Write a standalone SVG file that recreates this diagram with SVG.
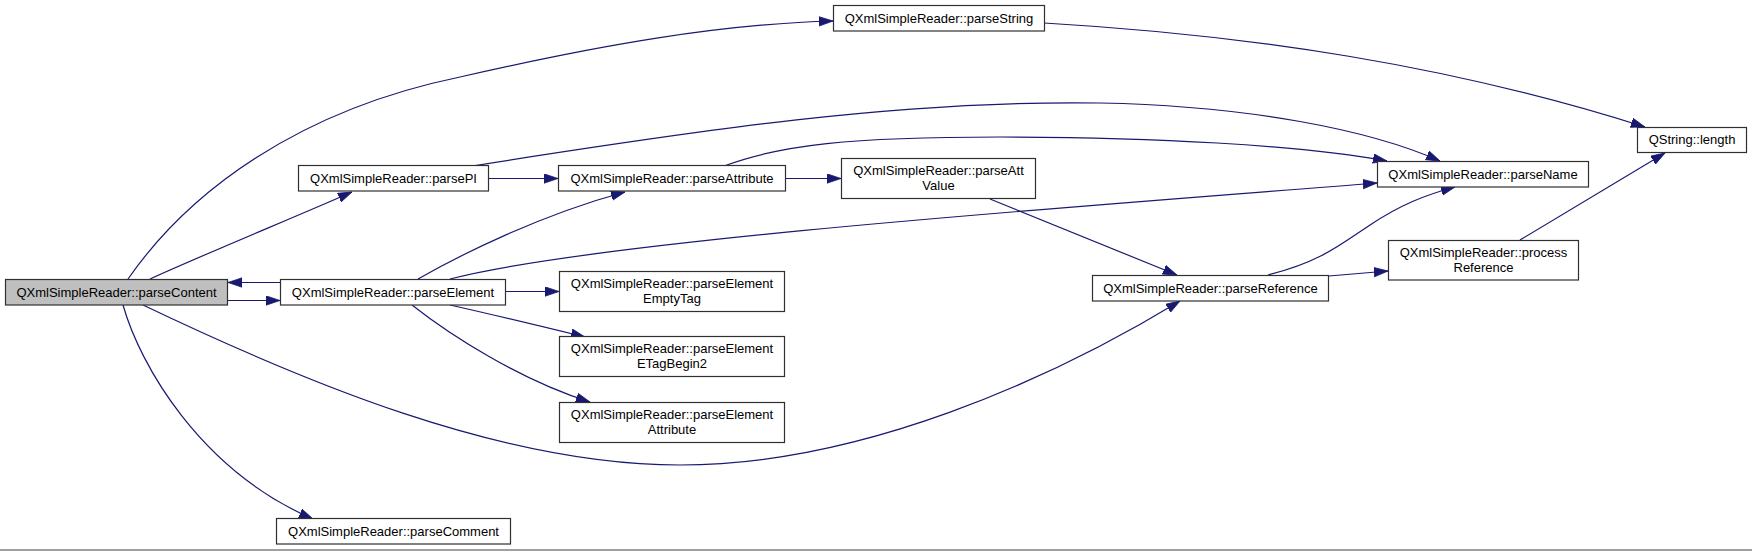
<svg xmlns="http://www.w3.org/2000/svg" width="1752" height="551" viewBox="0 0 1752 551">
<defs>
<style>
.n rect{fill:#ffffff;stroke:#303030;stroke-width:1.2}
.n.root rect{fill:#bfbfbf}
.n text{font-family:"Liberation Sans",Arial,sans-serif;font-size:13px;fill:#000;text-anchor:middle}
.e path{fill:none;stroke:#191970;stroke-width:1.2;marker-end:url(#ah)}
</style>
<marker id="ah" markerUnits="userSpaceOnUse" markerWidth="15" markerHeight="11" refX="14" refY="5" orient="auto">
<path d="M0,0.3 L14,5 L0,9.7 Z" fill="#191970" stroke="#191970" stroke-width="0.8"/>
</marker>
</defs>
<rect x="0" y="0" width="1752" height="551" fill="#ffffff"/>
<g id="connectors" class="e">
<path d="M128,279 C190,190 300,110 460,77 C600,45 720,24 833,21"/>
<path d="M1044,23 C1250,35 1450,65 1645,127"/>
<path d="M150,279 C200,256 300,215 352,192"/>
<path d="M228,300.5 L280,300.5"/>
<path d="M280,282.5 L228,282.5"/>
<path d="M123,305 C140,365 200,470 313,519"/>
<path d="M143,305 C300,380 500,465 680,465 C860,465 1050,380 1180,301"/>
<path d="M418,279 C460,255 540,215 625,192"/>
<path d="M450,279 C600,240 1100,205 1377,183"/>
<path d="M506,291.5 L559,291.5"/>
<path d="M450,305 C490,314 540,326 585,337"/>
<path d="M412,305 C450,335 520,380 590,402"/>
<path d="M488,178.5 L558,178.5"/>
<path d="M472,166 C700,130 900,100 1100,103 C1250,106 1370,130 1440,161"/>
<path d="M724,166 C780,145 850,137 1000,137 C1150,137 1300,145 1387,161"/>
<path d="M785,178.5 L841,178.5"/>
<path d="M990,199 L1177,275"/>
<path d="M1268,275 C1320,262 1340,245 1370,225 C1400,205 1425,195 1455,187"/>
<path d="M1329,276 L1388,271"/>
<path d="M1520,240 C1570,210 1620,180 1665,153"/>
</g>
<g id="parseContent" class="n root"><rect x="5.5" y="279.5" width="222" height="25.5"/><text x="116.5" y="296.5">QXmlSimpleReader::parseContent</text></g>
<g id="parseElement" class="n"><rect x="280.5" y="279.5" width="225" height="25.5"/><text x="393" y="296.5">QXmlSimpleReader::parseElement</text></g>
<g id="parsePI" class="n"><rect x="298.5" y="165.5" width="190" height="25.5"/><text x="393.5" y="182.5">QXmlSimpleReader::parsePI</text></g>
<g id="parseString" class="n"><rect x="833.5" y="5.5" width="211" height="25.5"/><text x="939" y="22.5">QXmlSimpleReader::parseString</text></g>
<g id="parseAttribute" class="n"><rect x="558.5" y="165.5" width="227" height="25.5"/><text x="672" y="182.5">QXmlSimpleReader::parseAttribute</text></g>
<g id="parseAttValue" class="n"><rect x="841.5" y="158.5" width="194" height="40"/><text x="938.5" y="175">QXmlSimpleReader::parseAtt</text><text x="938.5" y="190">Value</text></g>
<g id="parseElementEmptyTag" class="n"><rect x="559.5" y="271.5" width="225" height="40"/><text x="672" y="288">QXmlSimpleReader::parseElement</text><text x="672" y="303">EmptyTag</text></g>
<g id="parseElementETagBegin2" class="n"><rect x="559.5" y="336.5" width="225" height="40"/><text x="672" y="353">QXmlSimpleReader::parseElement</text><text x="672" y="368">ETagBegin2</text></g>
<g id="parseElementAttribute" class="n"><rect x="559.5" y="402.5" width="225" height="40"/><text x="672" y="419">QXmlSimpleReader::parseElement</text><text x="672" y="434">Attribute</text></g>
<g id="parseComment" class="n"><rect x="276.5" y="518.5" width="234" height="25.5"/><text x="393.5" y="535.5">QXmlSimpleReader::parseComment</text></g>
<g id="parseReference" class="n"><rect x="1092.5" y="275.5" width="236" height="25.5"/><text x="1210.5" y="292.5">QXmlSimpleReader::parseReference</text></g>
<g id="parseName" class="n"><rect x="1377.5" y="161.5" width="211" height="25.5"/><text x="1483" y="178.5">QXmlSimpleReader::parseName</text></g>
<g id="processReference" class="n"><rect x="1388.5" y="240.5" width="190" height="39.5"/><text x="1483.5" y="257">QXmlSimpleReader::process</text><text x="1483.5" y="272">Reference</text></g>
<g id="QStringLength" class="n"><rect x="1637.5" y="127.5" width="109" height="25"/><text x="1692" y="144">QString::length</text></g>
<rect x="0" y="549" width="1752" height="2" fill="#a0a0a0"/>
</svg>
